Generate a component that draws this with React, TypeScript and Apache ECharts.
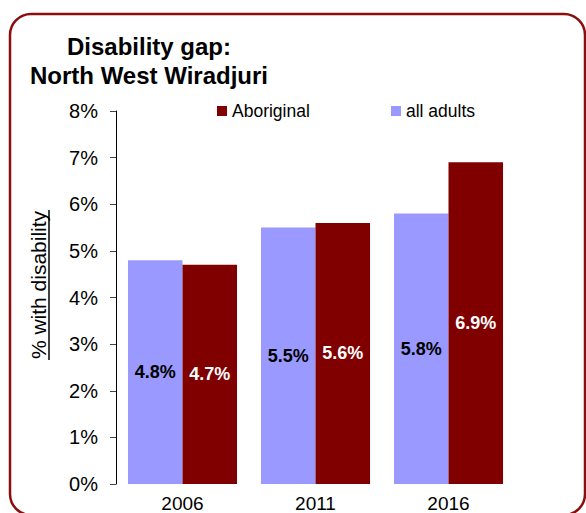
import React, { useEffect, useRef } from "react";
import * as echarts from "echarts";

const categories = ["2006", "2011", "2016"];
const allAdults = [4.8, 5.5, 5.8];
const aboriginal = [4.7, 5.6, 6.9];
const titleLines = ["Disability gap:", "North West Wiradjuri"];
const yAxisName = "% with disability";

const FONT = "'Liberation Sans', Arial, Helvetica, sans-serif";

export default function App() {
  const ref = useRef<HTMLDivElement>(null);

  useEffect(() => {
    if (!ref.current) return;
    const chart = echarts.init(ref.current, undefined, { renderer: "svg" });
    chart.setOption({
      animation: false,
      backgroundColor: "#ffffff",
      textStyle: { fontFamily: FONT },
      grid: { left: 116, top: 111, width: 399, height: 373, containLabel: false },
      legend: [
        {
          left: 217,
          top: 102,
          padding: 0,
          data: ["Aboriginal"],
          icon: "rect",
          itemWidth: 10,
          itemHeight: 10,
          textStyle: { fontSize: 17.5, color: "#000", fontFamily: FONT },
          selectedMode: false,
        },
        {
          left: 391,
          top: 102,
          padding: 0,
          data: ["all adults"],
          icon: "rect",
          itemWidth: 10,
          itemHeight: 10,
          textStyle: { fontSize: 17.5, color: "#000", fontFamily: FONT },
          selectedMode: false,
        },
      ],
      xAxis: {
        type: "category",
        data: categories,
        axisLine: { show: false },
        axisTick: { show: false },
        axisLabel: { fontSize: 19, color: "#000", margin: 10, fontFamily: FONT },
      },
      yAxis: {
        type: "value",
        min: 0,
        max: 8,
        interval: 1,
        splitLine: { show: false },
        axisLine: { show: true, lineStyle: { color: "#000", width: 1 } },
        axisTick: { show: true, length: 6, lineStyle: { color: "#444" } },
        axisLabel: {
          formatter: "{value}%",
          fontSize: 20,
          color: "#000",
          margin: 18,
          fontFamily: FONT,
        },
      },
      series: [
        {
          name: "all adults",
          type: "bar",
          data: allAdults,
          barGap: "0%",
          barCategoryGap: "18%",
          itemStyle: { color: "#9999FF" },
          label: {
            show: true,
            position: "inside",
            formatter: "{c}%",
            fontSize: 18,
            fontWeight: "bold",
            color: "#000",
            fontFamily: FONT,
          },
        },
        {
          name: "Aboriginal",
          type: "bar",
          data: aboriginal,
          barGap: "0%",
          barCategoryGap: "18%",
          itemStyle: { color: "#800000" },
          label: {
            show: true,
            position: "inside",
            formatter: "{c}%",
            fontSize: 18,
            fontWeight: "bold",
            color: "#fff",
            fontFamily: FONT,
          },
        },
      ],
      graphic: [
        {
          type: "rect",
          shape: { x: 10, y: 14, width: 575, height: 501, r: 21 },
          style: { fill: "none", stroke: "#8B0E0E", lineWidth: 2.5 },
          silent: true,
        },
        {
          type: "text",
          x: 149,
          y: 46,
          style: {
            text: titleLines[0],
            font: `bold 24px ${FONT}`,
            fill: "#000",
            align: "center",
            verticalAlign: "middle",
          },
        },
        {
          type: "text",
          x: 149,
          y: 75,
          style: {
            text: titleLines[1],
            font: `bold 24px ${FONT}`,
            fill: "#000",
            align: "center",
            verticalAlign: "middle",
          },
        },
        {
          type: "text",
          x: 38,
          y: 285,
          rotation: Math.PI / 2,
          style: {
            text: yAxisName,
            font: `21px ${FONT}`,
            fill: "#000",
            align: "center",
            verticalAlign: "middle",
          },
        },
        {
          type: "line",
          shape: { x1: 49, y1: 210, x2: 49, y2: 360 },
          style: { stroke: "#000", lineWidth: 1.5 },
        },
      ],
    });
    return () => chart.dispose();
  }, []);

  return (
    <div
      ref={ref}
      style={{ position: "absolute", left: 0, top: 0, width: 586, height: 513 }}
    />
  );
}
